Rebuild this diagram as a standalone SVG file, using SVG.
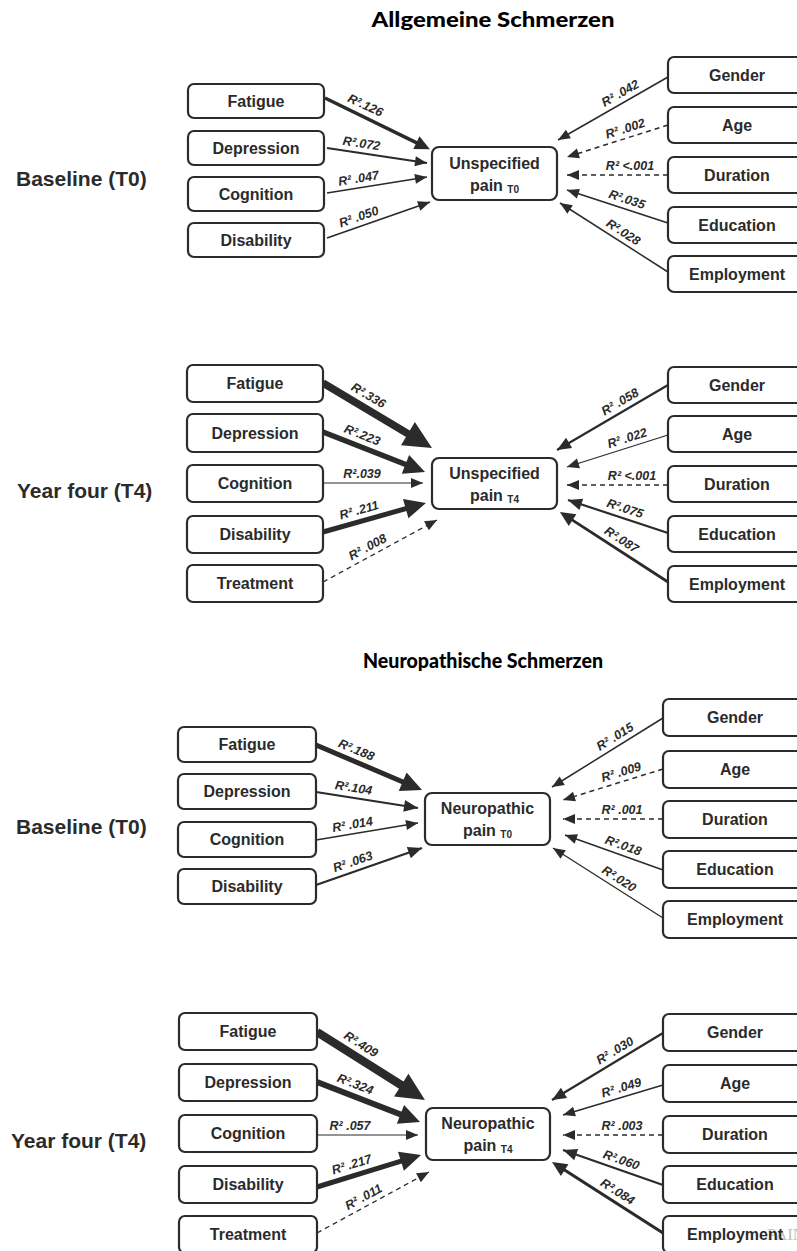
<svg xmlns="http://www.w3.org/2000/svg" width="797" height="1251" viewBox="0 0 797 1251">
  <style>
    .box { fill: #ffffff; stroke: #2b2b2b; stroke-width: 2.2; }
    .nt { font-family: "Liberation Sans", Arial, sans-serif; font-weight: bold; font-size: 16px; fill: #2b2b2b; text-anchor: middle; }
    .sub { font-size: 10px; }
    .sec { font-family: "Liberation Sans", Arial, sans-serif; font-weight: bold; font-size: 21px; fill: #2b2b2b; }
    .title { font-family: Lato, "Open Sans", sans-serif; font-weight: 900; font-size: 20px; fill: #000000; text-anchor: middle; }
    .lbl { font-family: "Liberation Sans", Arial, sans-serif; font-weight: bold; font-style: italic; font-size: 12.5px; fill: #2b2b2b; text-anchor: middle; }
    .c { fill: none; stroke: #2b2b2b; }
    .d { stroke-dasharray: 5 4; }
    .head { fill: #2b2b2b; stroke: none; }
    .wm { font-family: "Liberation Serif", serif; font-size: 17px; fill: #c2c2c2; }
  </style>
  <defs>
    <!-- tip-anchored heads for thin connectors -->
    <marker id="t1" markerUnits="userSpaceOnUse" markerWidth="12" markerHeight="10" viewBox="0 -5 12 10" refX="12" refY="0" orient="auto" overflow="visible">
      <path class="head" d="M0,-5 L12,0 L0,5 z"/>
    </marker>
    <marker id="t2" markerUnits="userSpaceOnUse" markerWidth="14" markerHeight="12" viewBox="0 -6 14 12" refX="14" refY="0" orient="auto" overflow="visible">
      <path class="head" d="M0,-6 L14,0 L0,6 z"/>
    </marker>
    <!-- base-anchored heads for heavy connectors (line stops at the head's base) -->
    <marker id="b2" markerUnits="userSpaceOnUse" markerWidth="15" markerHeight="14" viewBox="0 -7 15 14" refX="1" refY="0" orient="auto" overflow="visible">
      <path class="head" d="M0,-7 L15,0 L0,7 z"/>
    </marker>
    <marker id="b3" markerUnits="userSpaceOnUse" markerWidth="21" markerHeight="20" viewBox="0 -10 21 20" refX="1" refY="0" orient="auto" overflow="visible">
      <path class="head" d="M0,-10 L21,0 L0,10 z"/>
    </marker>
    <marker id="b4" markerUnits="userSpaceOnUse" markerWidth="28" markerHeight="27" viewBox="0 -13.5 28 27" refX="1" refY="0" orient="auto" overflow="visible">
      <path class="head" d="M0,-13.5 L28,0 L0,13.5 z"/>
    </marker>
  </defs>

  <rect x="0" y="0" width="797" height="1251" fill="#ffffff"/>

  <!-- headings -->
  <g id="headings">
    <text class="title" x="493" y="27" textLength="243" lengthAdjust="spacingAndGlyphs">Allgemeine Schmerzen</text>
    <text class="title" x="483" y="668" textLength="240" lengthAdjust="spacingAndGlyphs">Neuropathische Schmerzen</text>
    <text class="sec" x="16" y="186">Baseline (T0)</text>
    <text class="sec" x="17" y="498">Year four (T4)</text>
    <text class="sec" x="16" y="834">Baseline (T0)</text>
    <text class="sec" x="11" y="1148">Year four (T4)</text>
  </g>

  <!-- connectors -->
  <g id="connectors">
    <!-- unspecified pain, T0 -->
    <line class="c" x1="325" y1="98" x2="417.3" y2="143.1" stroke-width="3.5" marker-end="url(#b2)"/>
    <line class="c" x1="327" y1="148" x2="427" y2="163" stroke-width="1.8" marker-end="url(#t1)"/>
    <line class="c" x1="327" y1="193" x2="427" y2="177" stroke-width="1.5" marker-end="url(#t1)"/>
    <line class="c" x1="327" y1="238" x2="430" y2="202" stroke-width="1.8" marker-end="url(#t1)"/>
    <line class="c" x1="668" y1="77" x2="558" y2="140" stroke-width="1.5" marker-end="url(#t1)"/>
    <line class="c d" x1="668" y1="125" x2="567" y2="157" stroke-width="1.5" marker-end="url(#t1)"/>
    <line class="c d" x1="668" y1="175" x2="567" y2="175" stroke-width="1.5" marker-end="url(#t1)"/>
    <line class="c" x1="668" y1="223" x2="567" y2="190" stroke-width="1.8" marker-end="url(#t1)"/>
    <line class="c" x1="668" y1="272" x2="560" y2="203" stroke-width="1.5" marker-end="url(#t1)"/>

    <!-- unspecified pain, T4 -->
    <line class="c" x1="323" y1="383" x2="408.8" y2="434.2" stroke-width="7.5" marker-end="url(#b4)"/>
    <line class="c" x1="323" y1="432" x2="406.4" y2="464.7" stroke-width="5.5" marker-end="url(#b3)"/>
    <line class="c" x1="323" y1="483" x2="423" y2="483" stroke-width="1.2" marker-end="url(#t1)"/>
    <line class="c" x1="323" y1="532" x2="406.7" y2="508.4" stroke-width="5" marker-end="url(#b3)"/>
    <line class="c d" x1="323" y1="582" x2="437" y2="520" stroke-width="1.3" marker-end="url(#t1)"/>
    <line class="c" x1="668" y1="385" x2="557" y2="450" stroke-width="2.2" marker-end="url(#t2)"/>
    <line class="c" x1="668" y1="435" x2="567" y2="467" stroke-width="1.3" marker-end="url(#t1)"/>
    <line class="c d" x1="668" y1="485" x2="567" y2="485" stroke-width="1.5" marker-end="url(#t1)"/>
    <line class="c" x1="668" y1="533" x2="568" y2="500" stroke-width="2.2" marker-end="url(#t2)"/>
    <line class="c" x1="668" y1="582" x2="571.7" y2="519.6" stroke-width="2.8" marker-end="url(#b2)"/>

    <!-- neuropathic pain, T0 -->
    <line class="c" x1="316" y1="745" x2="403.6" y2="782.2" stroke-width="5" marker-end="url(#b3)"/>
    <line class="c" x1="316" y1="792" x2="418" y2="808" stroke-width="2.2" marker-end="url(#t2)"/>
    <line class="c" x1="316" y1="840" x2="418" y2="823" stroke-width="1.3" marker-end="url(#t1)"/>
    <line class="c" x1="316" y1="885" x2="422" y2="848" stroke-width="2.2" marker-end="url(#t2)"/>
    <line class="c" x1="663" y1="718" x2="552" y2="787" stroke-width="1.5" marker-end="url(#t1)"/>
    <line class="c d" x1="663" y1="769" x2="563" y2="800" stroke-width="1.5" marker-end="url(#t1)"/>
    <line class="c d" x1="663" y1="819" x2="563" y2="819" stroke-width="1.5" marker-end="url(#t1)"/>
    <line class="c" x1="663" y1="870" x2="565" y2="835" stroke-width="1.5" marker-end="url(#t1)"/>
    <line class="c" x1="663" y1="918" x2="553" y2="848" stroke-width="1.3" marker-end="url(#t1)"/>

    <!-- neuropathic pain, T4 -->
    <line class="c" x1="317" y1="1032" x2="402.1" y2="1085.6" stroke-width="8.5" marker-end="url(#b4)"/>
    <line class="c" x1="317" y1="1082" x2="401.4" y2="1114.8" stroke-width="6" marker-end="url(#b3)"/>
    <line class="c" x1="317" y1="1135" x2="418" y2="1135" stroke-width="1.2" marker-end="url(#t1)"/>
    <line class="c" x1="317" y1="1187" x2="401.9" y2="1160.9" stroke-width="5" marker-end="url(#b3)"/>
    <line class="c d" x1="317" y1="1233" x2="429" y2="1172" stroke-width="1.3" marker-end="url(#t1)"/>
    <line class="c" x1="663" y1="1033" x2="552" y2="1100" stroke-width="2.2" marker-end="url(#t2)"/>
    <line class="c" x1="663" y1="1085" x2="563" y2="1115" stroke-width="1.5" marker-end="url(#t1)"/>
    <line class="c d" x1="663" y1="1135" x2="563" y2="1135" stroke-width="1.5" marker-end="url(#t1)"/>
    <line class="c" x1="663" y1="1185" x2="563" y2="1150" stroke-width="2.2" marker-end="url(#t2)"/>
    <line class="c" x1="663" y1="1233" x2="563.8" y2="1169.5" stroke-width="3.2" marker-end="url(#b2)"/>
  </g>

  <!-- connector labels, set just above each line and turned along it -->
  <g id="labels">
    <text class="lbl" dy="0.35em" transform="translate(365.5,105.1) rotate(25)">R².126</text>
    <text class="lbl" dy="0.35em" transform="translate(361.5,143.2) rotate(8.5)">R².072</text>
    <text class="lbl" dy="0.35em" transform="translate(358.5,178.1) rotate(-9.1)">R² .047</text>
    <text class="lbl" dy="0.35em" transform="translate(358.7,216.5) rotate(-19.3)">R² .050</text>
    <text class="lbl" dy="0.35em" transform="translate(620.2,93.1) rotate(-29.8)">R² .042</text>
    <text class="lbl" dy="0.35em" transform="translate(625.1,128.4) rotate(-17.6)">R² .002</text>
    <text class="lbl" dy="0.35em" transform="translate(630,165.2)">R² &lt;.001</text>
    <text class="lbl" dy="0.35em" transform="translate(627.1,199.2) rotate(18.1)">R².035</text>
    <text class="lbl" dy="0.35em" transform="translate(623.3,231.9) rotate(32.6)">R².028</text>

    <text class="lbl" dy="0.35em" transform="translate(368.5,395.3) rotate(30.8)">R².336</text>
    <text class="lbl" dy="0.35em" transform="translate(362.3,434.8) rotate(21.4)">R².223</text>
    <text class="lbl" dy="0.35em" transform="translate(362,473.4)">R².039</text>
    <text class="lbl" dy="0.35em" transform="translate(358.9,509.9) rotate(-15.7)">R² .211</text>
    <text class="lbl" dy="0.35em" transform="translate(367.4,546.8) rotate(-28.5)">R² .008</text>
    <text class="lbl" dy="0.35em" transform="translate(619.9,401.5) rotate(-30.4)">R² .058</text>
    <text class="lbl" dy="0.35em" transform="translate(627.1,437.8) rotate(-17.6)">R²  .022</text>
    <text class="lbl" dy="0.35em" transform="translate(632,475.3)">R² &lt;.001</text>
    <text class="lbl" dy="0.35em" transform="translate(625.2,508.2) rotate(18.3)">R².075</text>
    <text class="lbl" dy="0.35em" transform="translate(621.7,539.6) rotate(33)">R².087</text>

    <text class="lbl" dy="0.35em" transform="translate(356.5,749.7) rotate(23)">R².188</text>
    <text class="lbl" dy="0.35em" transform="translate(353.6,787.6) rotate(8.9)">R².104</text>
    <text class="lbl" dy="0.35em" transform="translate(352.4,824.2) rotate(-9.5)">R² .014</text>
    <text class="lbl" dy="0.35em" transform="translate(352.7,861.5) rotate(-19.2)">R² .063</text>
    <text class="lbl" dy="0.35em" transform="translate(614.9,736.4) rotate(-31.9)">R² .015</text>
    <text class="lbl" dy="0.35em" transform="translate(621.1,771.8) rotate(-17.2)">R² .009</text>
    <text class="lbl" dy="0.35em" transform="translate(622,809.3)">R² .001</text>
    <text class="lbl" dy="0.35em" transform="translate(623.3,845.4) rotate(19.7)">R².018</text>
    <text class="lbl" dy="0.35em" transform="translate(619.2,878.7) rotate(32.5)">R².020</text>

    <text class="lbl" dy="0.35em" transform="translate(361.1,1044.1) rotate(32.2)">R².409</text>
    <text class="lbl" dy="0.35em" transform="translate(355.3,1084) rotate(21.2)">R².324</text>
    <text class="lbl" dy="0.35em" transform="translate(350,1125.4)">R² .057</text>
    <text class="lbl" dy="0.35em" transform="translate(351.6,1164.3) rotate(-17.1)">R² .217</text>
    <text class="lbl" dy="0.35em" transform="translate(363.4,1196.7) rotate(-28.6)">R² .011</text>
    <text class="lbl" dy="0.35em" transform="translate(614.8,1050.4) rotate(-31.1)">R² .030</text>
    <text class="lbl" dy="0.35em" transform="translate(621.2,1087.4) rotate(-16.7)">R²  .049</text>
    <text class="lbl" dy="0.35em" transform="translate(622,1125.3)">R² .003</text>
    <text class="lbl" dy="0.35em" transform="translate(621.3,1159.8) rotate(19.3)">R².060</text>
    <text class="lbl" dy="0.35em" transform="translate(617.7,1191.5) rotate(32.6)">R².084</text>
  </g>

  <!-- unspecified pain, T0 -->
  <g id="u0-fatigue"><rect class="box" x="188" y="84" width="136" height="34" rx="6"/><text class="nt" x="256" y="107">Fatigue</text></g>
  <g id="u0-depression"><rect class="box" x="188" y="131" width="136" height="34" rx="6"/><text class="nt" x="256" y="154">Depression</text></g>
  <g id="u0-cognition"><rect class="box" x="188" y="177" width="136" height="34" rx="6"/><text class="nt" x="256" y="200">Cognition</text></g>
  <g id="u0-disability"><rect class="box" x="188" y="223" width="136" height="34" rx="6"/><text class="nt" x="256" y="246">Disability</text></g>
  <g id="u0-pain"><rect class="box" x="432" y="147" width="125" height="53" rx="7"/><text class="nt" x="494.5" y="169">Unspecified</text><text class="nt" x="494.5" y="191">pain <tspan class="sub" dy="2">T0</tspan></text></g>
  <g id="u0-gender"><rect class="box" x="668" y="57" width="140" height="36" rx="6"/><text class="nt" x="737" y="81">Gender</text></g>
  <g id="u0-age"><rect class="box" x="668" y="107" width="140" height="36" rx="6"/><text class="nt" x="737" y="131">Age</text></g>
  <g id="u0-duration"><rect class="box" x="668" y="157" width="140" height="36" rx="6"/><text class="nt" x="737" y="181">Duration</text></g>
  <g id="u0-education"><rect class="box" x="668" y="207" width="140" height="36" rx="6"/><text class="nt" x="737" y="231">Education</text></g>
  <g id="u0-employment"><rect class="box" x="668" y="256" width="140" height="36" rx="6"/><text class="nt" x="737" y="280">Employment</text></g>

  <!-- unspecified pain, T4 -->
  <g id="u4-fatigue"><rect class="box" x="187" y="365" width="136" height="37" rx="6"/><text class="nt" x="255" y="389">Fatigue</text></g>
  <g id="u4-depression"><rect class="box" x="187" y="414" width="136" height="38" rx="6"/><text class="nt" x="255" y="439">Depression</text></g>
  <g id="u4-cognition"><rect class="box" x="187" y="465" width="136" height="37" rx="6"/><text class="nt" x="255" y="489">Cognition</text></g>
  <g id="u4-disability"><rect class="box" x="187" y="516" width="136" height="37" rx="6"/><text class="nt" x="255" y="540">Disability</text></g>
  <g id="u4-treatment"><rect class="box" x="187" y="565" width="136" height="37" rx="6"/><text class="nt" x="255" y="589">Treatment</text></g>
  <g id="u4-pain"><rect class="box" x="432" y="458" width="125" height="51" rx="7"/><text class="nt" x="494.5" y="479">Unspecified</text><text class="nt" x="494.5" y="501">pain <tspan class="sub" dy="2">T4</tspan></text></g>
  <g id="u4-gender"><rect class="box" x="668" y="367" width="140" height="36" rx="6"/><text class="nt" x="737" y="391">Gender</text></g>
  <g id="u4-age"><rect class="box" x="668" y="416" width="140" height="36" rx="6"/><text class="nt" x="737" y="440">Age</text></g>
  <g id="u4-duration"><rect class="box" x="668" y="466" width="140" height="36" rx="6"/><text class="nt" x="737" y="490">Duration</text></g>
  <g id="u4-education"><rect class="box" x="668" y="516" width="140" height="36" rx="6"/><text class="nt" x="737" y="540">Education</text></g>
  <g id="u4-employment"><rect class="box" x="668" y="566" width="140" height="36" rx="6"/><text class="nt" x="737" y="590">Employment</text></g>

  <!-- neuropathic pain, T0 -->
  <g id="n0-fatigue"><rect class="box" x="178" y="727" width="138" height="35" rx="6"/><text class="nt" x="247" y="750">Fatigue</text></g>
  <g id="n0-depression"><rect class="box" x="178" y="774" width="138" height="35" rx="6"/><text class="nt" x="247" y="797">Depression</text></g>
  <g id="n0-cognition"><rect class="box" x="178" y="822" width="138" height="35" rx="6"/><text class="nt" x="247" y="845">Cognition</text></g>
  <g id="n0-disability"><rect class="box" x="178" y="869" width="138" height="35" rx="6"/><text class="nt" x="247" y="892">Disability</text></g>
  <g id="n0-pain"><rect class="box" x="425" y="793" width="125" height="52" rx="7"/><text class="nt" x="487.5" y="814">Neuropathic</text><text class="nt" x="487.5" y="836">pain <tspan class="sub" dy="2">T0</tspan></text></g>
  <g id="n0-gender"><rect class="box" x="663" y="699" width="145" height="37" rx="6"/><text class="nt" x="735" y="723">Gender</text></g>
  <g id="n0-age"><rect class="box" x="663" y="751" width="145" height="37" rx="6"/><text class="nt" x="735" y="775">Age</text></g>
  <g id="n0-duration"><rect class="box" x="663" y="801" width="145" height="37" rx="6"/><text class="nt" x="735" y="825">Duration</text></g>
  <g id="n0-education"><rect class="box" x="663" y="851" width="145" height="37" rx="6"/><text class="nt" x="735" y="875">Education</text></g>
  <g id="n0-employment"><rect class="box" x="663" y="901" width="145" height="37" rx="6"/><text class="nt" x="735" y="925">Employment</text></g>

  <!-- neuropathic pain, T4 -->
  <g id="n4-fatigue"><rect class="box" x="179" y="1013" width="138" height="37" rx="6"/><text class="nt" x="248" y="1037">Fatigue</text></g>
  <g id="n4-depression"><rect class="box" x="179" y="1064" width="138" height="37" rx="6"/><text class="nt" x="248" y="1088">Depression</text></g>
  <g id="n4-cognition"><rect class="box" x="179" y="1115" width="138" height="37" rx="6"/><text class="nt" x="248" y="1139">Cognition</text></g>
  <g id="n4-disability"><rect class="box" x="179" y="1166" width="138" height="37" rx="6"/><text class="nt" x="248" y="1190">Disability</text></g>
  <g id="n4-treatment"><rect class="box" x="179" y="1216" width="138" height="37" rx="6"/><text class="nt" x="248" y="1240">Treatment</text></g>
  <g id="n4-pain"><rect class="box" x="426" y="1108" width="124" height="52" rx="7"/><text class="nt" x="488" y="1129">Neuropathic</text><text class="nt" x="488" y="1151">pain <tspan class="sub" dy="2">T4</tspan></text></g>
  <g id="n4-gender"><rect class="box" x="663" y="1014" width="145" height="37" rx="6"/><text class="nt" x="735" y="1038">Gender</text></g>
  <g id="n4-age"><rect class="box" x="663" y="1065" width="145" height="37" rx="6"/><text class="nt" x="735" y="1089">Age</text></g>
  <g id="n4-duration"><rect class="box" x="663" y="1116" width="145" height="37" rx="6"/><text class="nt" x="735" y="1140">Duration</text></g>
  <g id="n4-education"><rect class="box" x="663" y="1166" width="145" height="37" rx="6"/><text class="nt" x="735" y="1190">Education</text></g>
  <g id="n4-employment"><rect class="box" x="663" y="1216" width="145" height="37" rx="6"/><text class="wm" x="767" y="1240">PAIN</text><text class="nt" x="735" y="1240">Employment</text></g>
</svg>
